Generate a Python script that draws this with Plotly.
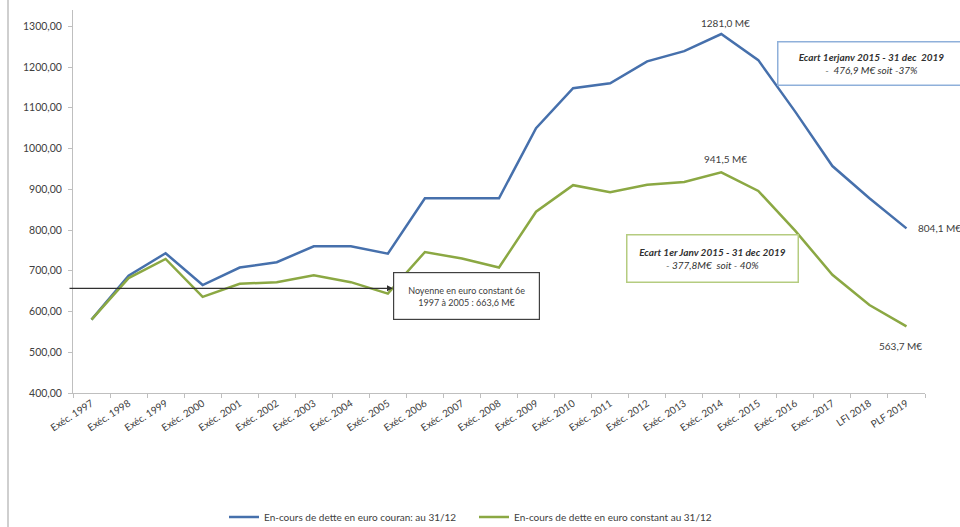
import plotly.graph_objects as go

categories = ["Exéc. 1997", "Exéc. 1998", "Exéc. 1999", "Exéc. 2000", "Exéc. 2001", "Exéc. 2002",
              "Exéc. 2003", "Exéc. 2004", "Exéc. 2005", "Exéc. 2006", "Exéc. 2007", "Exéc. 2008",
              "Exéc. 2009", "Exéc. 2010", "Exéc. 2011", "Exéc. 2012", "Exéc. 2013", "Exéc. 2014",
              "Exéc. 2015", "Exéc. 2016", "Exec. 2017", "LFI 2018", "PLF 2019"]
tick_labels = ["Exéc. 1997", "Exéc. 1998", "Exéc. 1999", "Exéc. 2000", "Exéc. 2001", "Exéc. 2002",
               "Exéc. 2003", "Exéc. 2004", "Exéc. 2005", "Exéc. 2006", "Exéc. 2007", "Exéc. 2008",
               "Exéc. 2009", "Exéc. 2010", "Exéc. 2011", "Exéc. 2012", "Exéc. 2013", "Exéc. 2014",
               "Exéc. 2015", "Exéc. 2016", "Exec. 2017", "LFI 2018", "PLF 2019"]
courant = [580, 688, 743, 665, 708, 721, 760, 760, 742, 878, 878, 878,
           1050, 1148, 1160, 1214, 1239, 1281.0, 1217, 1090, 957, 878, 804.1]
constant = [580, 682, 729, 636, 668, 672, 689, 672, 644, 746, 730, 708,
            845, 910, 893, 911, 918, 941.5, 896, 798, 690, 616, 563.7]
moyenne = 657
yticks = [400, 500, 600, 700, 800, 900, 1000, 1100, 1200, 1300]
ytick_text = ["400,00", "500,00", "600,00", "700,00", "800,00", "900,00",
              "1000,00", "1100,00", "1200,00", "1300,00"]

BLUE = "#4670AC"
GREEN = "#8BA843"
FONT = "Lato"

fig = go.Figure()
fig.add_trace(go.Scatter(x=categories, y=courant, mode="lines",
                         line=dict(color=BLUE, width=2.5),
                         name="En-cours de dette en euro couran: au 31/12"))
fig.add_trace(go.Scatter(x=categories, y=constant, mode="lines",
                         line=dict(color=GREEN, width=2.5),
                         name="En-cours de dette en euro constant au 31/12"))

L, R, T, B = 73, 35, 10, 134
W, H = 960, 527
pw, ph = W - L - R, H - T - B


def px(x):
    return (x - L) / pw


def py(y):
    return (H - B - y) / ph


annotations = [
    dict(x=categories[17], y=courant[17], text="1281,0 M€", showarrow=False, yshift=11,
         xshift=4, font=dict(size=10, color="#404040")),
    dict(x=categories[17], y=constant[17], text="941,5 M€", showarrow=False, yshift=13,
         xshift=4, font=dict(size=10, color="#404040")),
    dict(x=categories[22], y=courant[22], text="804,1 M€", showarrow=False, xanchor="left",
         xshift=10, font=dict(size=10, color="#404040")),
    dict(x=categories[22], y=constant[22], text="563,7 M€", showarrow=False, yshift=-20,
         xshift=-6, font=dict(size=10, color="#404040")),
    # average box
    dict(xref="paper", yref="paper", x=px(466.5), y=py(296), text="Noyenne en euro constant 6e<br>1997 à 2005 : 663,6 M€",
         showarrow=False, width=143, height=44, bordercolor="#404040", borderwidth=1.2,
         bgcolor="white", font=dict(size=9, color="#404040"), xanchor="center", yanchor="middle"),
    # arrow to the box
    dict(xref="paper", y=moyenne, yref="y", x=px(393), text="", showarrow=True,
         ax=-325, ay=0, arrowhead=2, arrowsize=1, arrowwidth=1.2, arrowcolor="#303030"),
    # green box
    dict(xref="paper", yref="paper", x=px(712), y=py(258),
         text="<b><i>Ecart 1er Janv 2015 - 31 dec 2019</i></b><br><i>- 377,8M€  soit - 40%</i>",
         showarrow=False, width=168, height=44, bordercolor="#B5CC80", borderwidth=1.5,
         bgcolor="white", font=dict(size=10, color="#303030"), xanchor="center", yanchor="middle"),
    # blue box
    dict(xref="paper", yref="paper", x=px(871.5), y=py(63),
         text="<b><i>Ecart 1erjanv 2015 - 31 dec  2019</i></b><br><i>-  476,9 M€ soit -37%</i>",
         showarrow=False, width=184, height=40, bordercolor="#8FB0DA", borderwidth=1.5,
         bgcolor="white", font=dict(size=10, color="#303030"), xanchor="center", yanchor="middle"),
]

shapes = [
    dict(type="line", xref="paper", yref="paper", x0=px(8), x1=px(8), y0=py(0), y1=py(527),
         line=dict(color="#BFBFBF", width=1.5)),
]

fig.update_layout(
    template="none",
    width=W, height=H,
    margin=dict(l=L, r=R, t=T, b=B, autoexpand=False),
    paper_bgcolor="white", plot_bgcolor="white",
    font=dict(family=FONT, size=10, color="#404040"),
    showlegend=True,
    legend=dict(orientation="h", x=px(224), y=py(517), xanchor="left", yanchor="middle",
                font=dict(size=10, color="#404040"), entrywidth=205, itemwidth=30,
                bgcolor="rgba(0,0,0,0)"),
    annotations=annotations,
    shapes=shapes,
    xaxis=dict(type="category", range=[-0.5, 22.5], tickmode="array", tickvals=categories,
               ticktext=tick_labels, tickangle=-33, tickson="boundaries", ticks="outside",
               ticklen=4, tickcolor="#BFBFBF", showline=True, linecolor="#BFBFBF", linewidth=1,
               showgrid=False, automargin=False, tickfont=dict(size=10, color="#404040")),
    yaxis=dict(range=[400, 1340], tickmode="array", tickvals=yticks, ticktext=ytick_text,
               ticks="outside", ticklen=4, tickcolor="#BFBFBF", showline=True, linecolor="#BFBFBF",
               linewidth=1, showgrid=False, zeroline=False, automargin=False, ticklabelstandoff=4,
               tickfont=dict(size=10.5, color="#404040")),
)

fig.write_html("out.html", config={"displayModeBar": False},
               post_script="document.body.style.margin='0px';document.body.style.overflow='hidden';")
